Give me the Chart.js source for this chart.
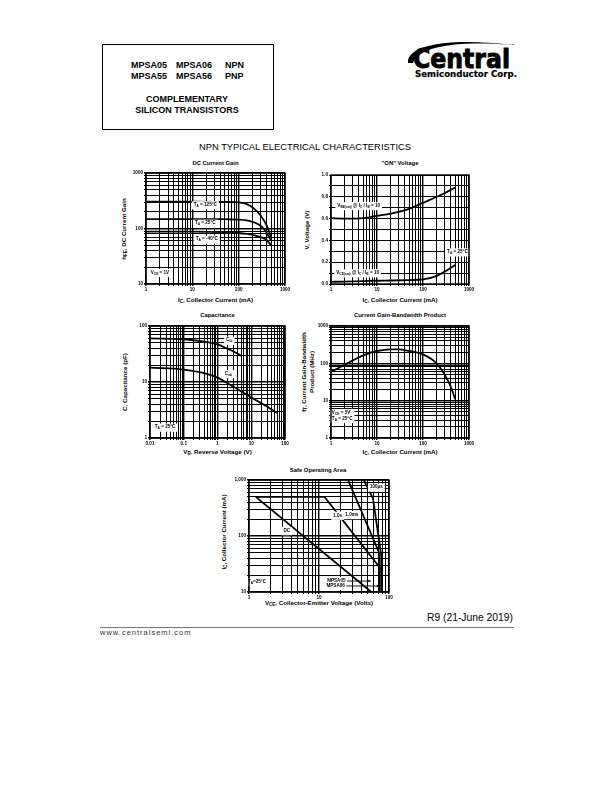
<!DOCTYPE html>
<html>
<head>
<meta charset="utf-8">
<script src="https://cdn.jsdelivr.net/npm/chart.js@4.4.1/dist/chart.umd.min.js"></script>
<style>
  body { margin: 0; background: #fff; }
  #page { position: relative; width: 612px; height: 792px; overflow: hidden;
          font-family: "Liberation Sans", Arial, sans-serif; color: #000; }
  .c { position: absolute; white-space: nowrap; line-height: 1; transform: translate(-50%, -50%); font-weight: bold; }
  .l { position: absolute; white-space: nowrap; line-height: 1; font-weight: bold; }
  .rot { transform: translate(-50%, -50%) rotate(-90deg); }
  .hd { font-size: 9px; }
  .ttl { font-size: 5.9px; }
  .ax { font-size: 6.2px; }
  sub { font-size: 72%; vertical-align: -0.3em; line-height: 0; }
  canvas { position: absolute; }
</style>
</head>
<body>
<div id="page">
  <div style="position:absolute;left:102px;top:44px;width:172px;height:86px;border:1px solid #000;box-sizing:border-box"></div>
  <div class="l hd" style="left:131px;top:61px">MPSA05</div>
  <div class="l hd" style="left:176px;top:61px">MPSA06</div>
  <div class="l hd" style="left:225px;top:61px">NPN</div>
  <div class="l hd" style="left:131px;top:72px">MPSA55</div>
  <div class="l hd" style="left:176px;top:72px">MPSA56</div>
  <div class="l hd" style="left:225px;top:72px">PNP</div>
  <div class="c hd" style="left:187px;top:98.5px">COMPLEMENTARY</div>
  <div class="c hd" style="left:187px;top:110px">SILICON TRANSISTORS</div>

  <svg style="position:absolute;left:400px;top:38px" width="130" height="45">
    <path d="M8 25 C 6 7, 50 -1, 112 7 C 62 3, 20 7, 13 25 Z" fill="#000"/>
    <text x="13" y="30" font-family="DejaVu Sans" font-weight="bold" font-size="26" stroke="#000" stroke-width="0.9" textLength="97" lengthAdjust="spacingAndGlyphs">Central</text>
    <text x="111" y="9" font-family="DejaVu Sans" font-size="4">™</text>
    <text x="15" y="38.5" font-family="DejaVu Sans" font-weight="bold" font-size="8.5" stroke="#000" stroke-width="0.2" textLength="102" lengthAdjust="spacingAndGlyphs">Semiconductor Corp.</text>
  </svg>

  <div class="c" style="left:305px;top:146.5px;font-size:9.4px;font-weight:normal">NPN TYPICAL ELECTRICAL CHARACTERISTICS</div>

  <div class="c ttl" style="left:215.5px;top:163.5px">DC Current Gain</div>
  <div class="c ttl" style="left:400px;top:163.5px">"ON" Voltage</div>
  <div class="c ttl" style="left:217.5px;top:315.5px">Capacitance</div>
  <div class="c ttl" style="left:400px;top:315.5px">Current Gain-Bandwidth Product</div>
  <div class="c ttl" style="left:318px;top:470.5px">Safe Operating Area</div>

  <div class="c ax" style="left:215.5px;top:300px">I<sub>C</sub>, Collector Current (mA)</div>
  <div class="c ax rot" style="left:123.5px;top:229px">h<sub>FE</sub>, DC Current Gain</div>
  <div class="c ax" style="left:400px;top:299.5px">I<sub>C</sub>, Collector Current (mA)</div>
  <div class="c ax rot" style="left:307px;top:230px">V, Voltage (V)</div>
  <div class="c ax" style="left:217.5px;top:452px">V<sub>R</sub>, Reverse Voltage (V)</div>
  <div class="c ax rot" style="left:125px;top:382px">C, Capacitance (pF)</div>
  <div class="c ax" style="left:400px;top:452px">I<sub>C</sub>, Collector Current (mA)</div>
  <div class="c ax rot" style="left:303.5px;top:372px">f<sub>T</sub>, Current Gain-Bandwidth</div>
  <div class="c ax rot" style="left:312px;top:372px">Product (MHz)</div>
  <div class="c ax" style="left:319px;top:603px">V<sub>CE</sub>, Collector-Emitter Voltage (Volts)</div>
  <div class="c ax rot" style="left:224px;top:532px">I<sub>C</sub>, Collector Current (mA)</div>

  <canvas id="gain"></canvas>
  <canvas id="von"></canvas>
  <canvas id="cap"></canvas>
  <canvas id="ft"></canvas>
  <canvas id="soa"></canvas>

  <div class="l" style="left:427px;top:613px;font-size:10.3px;font-weight:normal">R9 (21-June 2019)</div>
  <div style="position:absolute;left:100px;top:627px;width:414px;border-top:1px solid #777"></div>
  <div class="l" style="left:100px;top:629px;font-size:7.5px;font-weight:normal;letter-spacing:1px;color:#333">www.centralsemi.com</div>
</div>

<script>
// DC current gain (IC mA -> hFE)
const gainIc  = [1, 10, 50, 100, 150, 200, 300, 400, 500];
const gain125 = [305, 305, 302, 295, 275, 240, 170, 115, 70];
const gain25  = [148, 148, 147, 145, 140, 132, 112, 85, 60];
const gainM40 = [88, 88, 86, 83, 80, 77, 70, 62, 50];

// "ON" voltage (IC mA -> V)
const onIc  = [1, 2, 5, 10, 20, 50, 100, 200, 300, 500];
const onVbe = [0.605, 0.60, 0.605, 0.625, 0.645, 0.69, 0.745, 0.80, 0.835, 0.885];
const onVce = [0.02, 0.022, 0.026, 0.03, 0.032, 0.036, 0.042, 0.075, 0.115, 0.175];

// capacitance (VR V -> pF)
const cibVr = [0.01, 0.1, 0.3, 1, 2, 3, 5];
const cibPf = [60, 58, 54, 47, 39, 35, 29.5];
const cobVr = [0.01, 0.1, 0.3, 1, 3, 10, 30, 60];
const cobPf = [18, 16.7, 15, 12, 8.2, 5.3, 3.6, 2.8];

// gain-bandwidth product (IC mA -> MHz)
const ftIc  = [1, 2, 3, 5, 10, 20, 30, 50, 100, 200, 300, 400, 500];
const ftMhz = [59, 92, 120, 164, 214, 237, 237, 214, 174, 98, 48, 24, 11];

// safe operating area (VCE V -> IC mA)
const soaDcV    = [1.25, 56];
const soaDcI    = [500, 10];
const soa1sV    = [1.25, 12, 78, 78];
const soa1sI    = [500, 500, 25, 10];
const soa1msV   = [26, 73, 73];
const soa1msI   = [1000, 49, 10];
const soa100usV = [43.6, 59, 78, 78];
const soa100usI = [1000, 470, 43, 10];

// tick labels
const icTicks    = [1, 10, 100, 1000];
const icText     = ['1', '10', '100', '1000'];
const gainYTicks = [10, 100, 1000];
const gainYText  = ['10', '100', '1000'];
const onYTicks   = [0, 0.2, 0.4, 0.6, 0.8, 1.0];
const onYText    = ['0.0', '0.2', '0.4', '0.6', '0.8', '1.0'];
const capXTicks  = [0.01, 0.1, 1, 10, 100];
const capXText   = ['0.01', '0.1', '1', '10', '100'];
const capYTicks  = [1, 10, 100];
const capYText   = ['1', '10', '100'];
const ftYTicks   = [1, 10, 100, 1000];
const ftYText    = ['1', '10', '100', '1000'];
const soaXTicks  = [1, 10, 100];
const soaXText   = ['1', '10', '100'];
const soaYTicks  = [10, 100, 1000];
const soaYText   = ['10', '100', '1,000'];

Chart.defaults.font.family = '"Liberation Sans", Arial, sans-serif';

const YW = 22, XH = 12, PT = 4, PR = 10;
const FONT = s => `bold ${s}px "Liberation Sans", Arial, sans-serif`;

const isDecade = v => Math.abs(Math.log10(v) - Math.round(Math.log10(v))) < 1e-9;

function logGrid(min, max) {
  const out = [];
  for (let e = Math.round(Math.log10(min)); e < Math.round(Math.log10(max)); e++) {
    for (let k = 1; k < 10; k++) out.push(k * Math.pow(10, e));
  }
  out.push(max);
  return out;
}

function labeller(ticks, text) {
  return v => {
    const i = ticks.findIndex(t => Math.abs(t - v) <= Math.max(Math.abs(t), 1) * 1e-6);
    return i < 0 ? '' : text[i];
  };
}

function gridOpts(linear) {
  return {
    color: '#000',
    tickLength: 2,
    lineWidth: c => (!linear && c.tick && isDecade(c.tick.value)) ? 1.4 : 1
  };
}

function tickOpts(ticks, text) {
  return { autoSkip: false, maxRotation: 0, padding: 1, color: '#000',
           font: { size: 4.6, weight: 'bold' }, callback: labeller(ticks, text) };
}

function logAxis(min, max, ticks, text) {
  return {
    type: 'logarithmic', min, max,
    afterBuildTicks: ax => { ax.ticks = logGrid(min, max).map(v => ({ value: v })); },
    ticks: tickOpts(ticks, text),
    grid: gridOpts(false),
    border: { display: false }
  };
}

function linAxis(min, max, step, ticks, text) {
  const t = tickOpts(ticks, text);
  t.stepSize = step;
  return { type: 'linear', min, max, ticks: t, grid: gridOpts(true), border: { display: false } };
}

function curve(xs, ys, smooth) {
  return {
    data: xs.map((x, i) => ({ x, y: ys[i] })),
    showLine: true, borderColor: '#000', borderWidth: 1.8, pointRadius: 0,
    cubicInterpolationMode: smooth ? 'monotone' : 'default', tension: 0, fill: false
  };
}

function richParts(str) {
  return str.split(/_\{([^}]*)\}/).map((t, i) => ({ t, sub: i % 2 === 1 })).filter(p => p.t);
}

function richWidth(ctx, str, size) {
  let w = 0;
  richParts(str).forEach(p => { ctx.font = FONT(p.sub ? size * 0.7 : size); w += ctx.measureText(p.t).width; });
  return w;
}

function drawRich(ctx, str, left, cy, size) {
  let x = left;
  ctx.textBaseline = 'middle';
  ctx.textAlign = 'left';
  richParts(str).forEach(p => {
    const s = p.sub ? size * 0.7 : size;
    ctx.font = FONT(s);
    ctx.fillText(p.t, x, cy + (p.sub ? size * 0.3 : 0));
    x += ctx.measureText(p.t).width;
  });
}

// frame around the plot plus white-boxed annotations placed in data units
function framePlugin(notes) {
  return {
    id: 'frame',
    afterDatasetsDraw(chart) {
      const { ctx, chartArea: a, scales } = chart;
      ctx.save();
      notes.forEach(n => {
        const size = 4.6, lh = 5.8;
        const cx = scales.x.getPixelForValue(n.x);
        const cy = scales.y.getPixelForValue(n.y);
        const w = Math.max(...n.lines.map(s => richWidth(ctx, s, size)));
        const h = lh * n.lines.length;
        ctx.fillStyle = '#fff';
        ctx.fillRect(cx - w / 2 - 2, cy - h / 2 - 1.2, w + 4, h + 2.4);
        ctx.fillStyle = '#000';
        n.lines.forEach((s, i) => {
          const sw = richWidth(ctx, s, size);
          const left = n.lines.length > 1 ? cx - w / 2 : cx - sw / 2;
          drawRich(ctx, s, left, cy - h / 2 + lh * (i + 0.5) - 0.5, size);
        });
        if (n.arrowTo) {
          const tx = scales.x.getPixelForValue(n.arrowTo);
          ctx.strokeStyle = '#000';
          ctx.lineWidth = 0.9;
          ctx.beginPath();
          ctx.moveTo(cx + w / 2 + 1.5, cy);
          ctx.lineTo(tx - 2.5, cy);
          ctx.stroke();
          ctx.beginPath();
          ctx.moveTo(tx, cy);
          ctx.lineTo(tx - 3, cy - 1.3);
          ctx.lineTo(tx - 3, cy + 1.3);
          ctx.closePath();
          ctx.fill();
        }
      });
      ctx.strokeStyle = '#000';
      ctx.lineWidth = 1.4;
      ctx.strokeRect(a.left, a.top, a.right - a.left, a.bottom - a.top);
      ctx.restore();
    }
  };
}

function makeChart(id, box, xAxis, yAxis, datasets, notes) {
  const cv = document.getElementById(id);
  cv.width = YW + box.w + PR;
  cv.height = PT + box.h + XH;
  cv.style.left = (box.x - YW) + 'px';
  cv.style.top = (box.y - PT) + 'px';
  xAxis.afterFit = s => { s.height = XH; s.paddingLeft = 0; s.paddingRight = 0; };
  yAxis.afterFit = s => { s.width = YW; s.paddingTop = 0; s.paddingBottom = 0; };
  return new Chart(cv, {
    type: 'scatter',
    data: { datasets },
    options: {
      responsive: false,
      animation: false,
      devicePixelRatio: 1,
      layout: { padding: { top: PT, right: PR, left: 0, bottom: 0 } },
      plugins: { legend: { display: false }, tooltip: { enabled: false } },
      scales: { x: xAxis, y: yAxis }
    },
    plugins: [framePlugin(notes)]
  });
}

makeChart('gain', { x: 146, y: 173, w: 139, h: 111 },
  logAxis(1, 1000, icTicks, icText),
  logAxis(10, 1000, gainYTicks, gainYText),
  [curve(gainIc, gain125, true), curve(gainIc, gain25, true), curve(gainIc, gainM40, true)],
  [
    { x: 19, y: 262, lines: ['T_{A} = 125°C'] },
    { x: 19, y: 122, lines: ['T_{A} = 25°C'] },
    { x: 20.5, y: 63, lines: ['T_{A} = -40°C'] },
    { x: 2.0, y: 15.8, lines: ['V_{CE} = 1V'] }
  ]);

makeChart('von', { x: 331, y: 175, w: 138, h: 109 },
  logAxis(1, 1000, icTicks, icText),
  linAxis(0, 1, 0.1, onYTicks, onYText),
  [curve(onIc, onVbe, true), curve(onIc, onVce, true)],
  [
    { x: 4.0, y: 0.715, lines: ['V_{BE(sat)} @ I_{C} / I_{B} = 10'] },
    { x: 3.8, y: 0.098, lines: ['V_{CE(sat)} @ I_{C} / I_{B} = 10'] },
    { x: 560, y: 0.29, lines: ['T_{A} = 25°C'] }
  ]);

makeChart('cap', { x: 150, y: 326, w: 135, h: 112 },
  logAxis(0.01, 100, capXTicks, capXText),
  logAxis(1, 100, capYTicks, capYText),
  [curve(cibVr, cibPf, true), curve(cobVr, cobPf, true)],
  [
    { x: 2.24, y: 54.6, lines: ['C_{ib}'] },
    { x: 2.1, y: 13.8, lines: ['C_{ob}'] },
    { x: 0.028, y: 1.53, lines: ['T_{A} = 25°C'] }
  ]);

makeChart('ft', { x: 331, y: 326, w: 138, h: 112 },
  logAxis(1, 1000, icTicks, icText),
  logAxis(1, 1000, ftYTicks, ftYText),
  [curve(ftIc, ftMhz, true)],
  [
    { x: 1.75, y: 3.9, lines: ['V_{CE} = 5V', 'T_{A} = 25°C'] }
  ]);

makeChart('soa', { x: 249, y: 480, w: 140, h: 112 },
  logAxis(1, 100, soaXTicks, soaXText),
  logAxis(10, 1000, soaYTicks, soaYText),
  [curve(soaDcV, soaDcI, false), curve(soa1sV, soa1sI, false),
   curve(soa1msV, soa1msI, false), curve(soa100usV, soa100usI, false)],
  [
    { x: 66, y: 728, lines: ['100µs'] },
    { x: 18.5, y: 230, lines: ['1.0s'] },
    { x: 29.5, y: 236, lines: ['1.0ms'] },
    { x: 3.46, y: 122, lines: ['DC'] },
    { x: 17.7, y: 15.7, lines: ['MPSA05'], arrowTo: 56 },
    { x: 17.3, y: 12.8, lines: ['MPSA06'], arrowTo: 74 },
    { x: 1.3, y: 14.9, lines: ['T_{A}=25°C'] }
  ]);
</script>
</body>
</html>
